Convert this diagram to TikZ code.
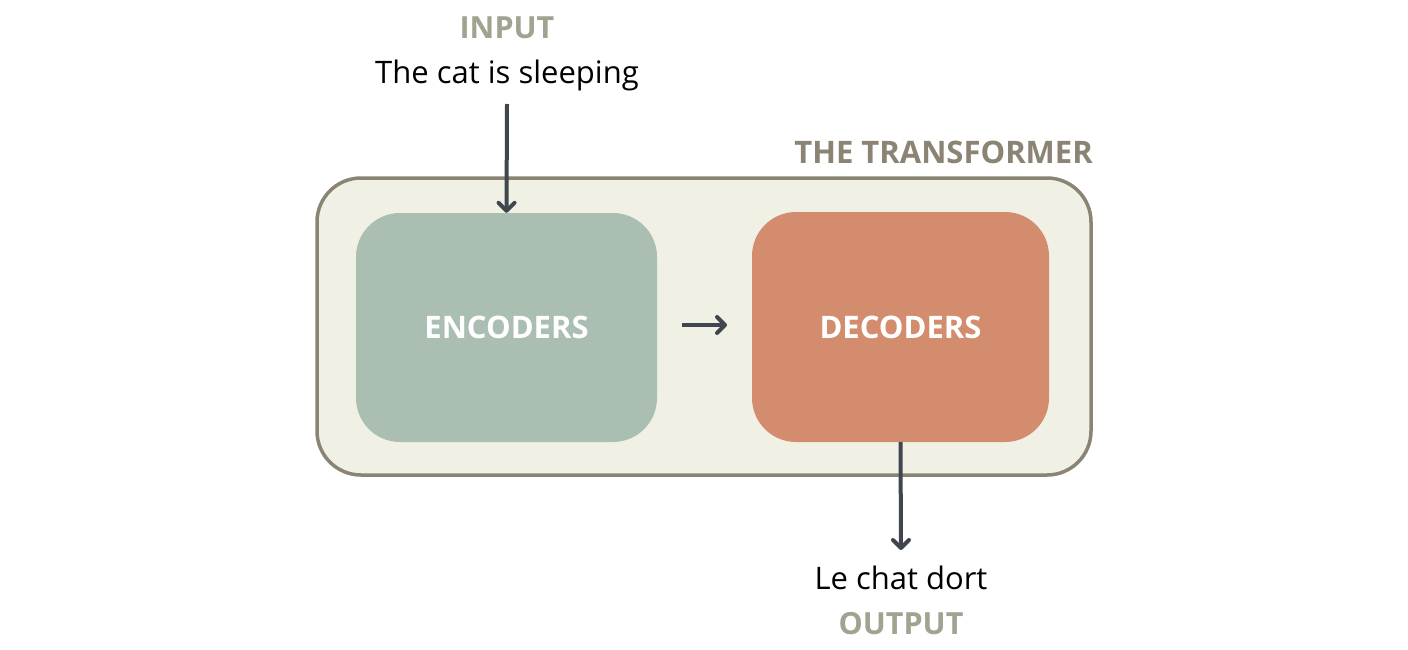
\documentclass[tikz,border=0pt]{standalone}
\usepackage{fontspec}
\setmainfont{Open Sans}
\usetikzlibrary{arrows.meta}
\definecolor{outerfill}{HTML}{F1F0E5}
\definecolor{outerline}{HTML}{8B8373}
\definecolor{encfill}{HTML}{AABEB2}
\definecolor{decfill}{HTML}{D38D6E}
\definecolor{arrowcol}{HTML}{3F464D}
\definecolor{labelgray}{HTML}{A2A291}
\tikzset{
  boxstyle/.style={rounded corners=44pt, inner sep=0pt, text=white, font=\fontsize{31}{36}\selectfont\bfseries},
  conn/.style={draw=arrowcol, line width=4pt, -{Straight Barb[round, length=8pt, width=16pt, line width=4pt]}},
  plaintext/.style={font=\fontsize{31}{36}\selectfont, text=black, inner sep=0pt},
  tag/.style={font=\fontsize{30.5}{36}\selectfont\bfseries, text=labelgray, inner sep=0pt},
}
\begin{document}
\begin{tikzpicture}[x=1pt,y=-1pt]
\useasboundingbox (0,0) rectangle (1408,650);
\node[draw=outerline, line width=3.5pt, fill=outerfill, rounded corners=44pt, minimum width=774pt, minimum height=297pt] (outer) at (704,326.5) {};
\node[boxstyle, fill=encfill, minimum width=301pt, minimum height=229pt] (enc) at (506.5,327.5) {ENCODERS};
\node[boxstyle, fill=decfill, minimum width=297pt, minimum height=230pt] (dec) at (900.5,327) {DECODERS};
\node[font=\fontsize{31}{36}\selectfont\bfseries, text=outerline, anchor=east, inner sep=0pt] (title) at (1093,152) {THE TRANSFORMER};
\node[tag] (inlabel) at (507,28) {INPUT};
\node[plaintext] (intext) at (507,75) {The cat is sleeping};
\node[plaintext] (outtext) at (901,578) {Le chat dort};
\node[tag] (outlabel) at (901,624) {OUTPUT};
\coordinate (instart) at (507,104);
\coordinate (outend) at (901,550);
\coordinate (ma) at (682,325);
\coordinate (mb) at (727,325);
\draw[conn] (instart) -- (enc.north);
\draw[conn] (ma) -- (mb);
\draw[conn] (dec.south) -- (outend);
\end{tikzpicture}
\end{document}
